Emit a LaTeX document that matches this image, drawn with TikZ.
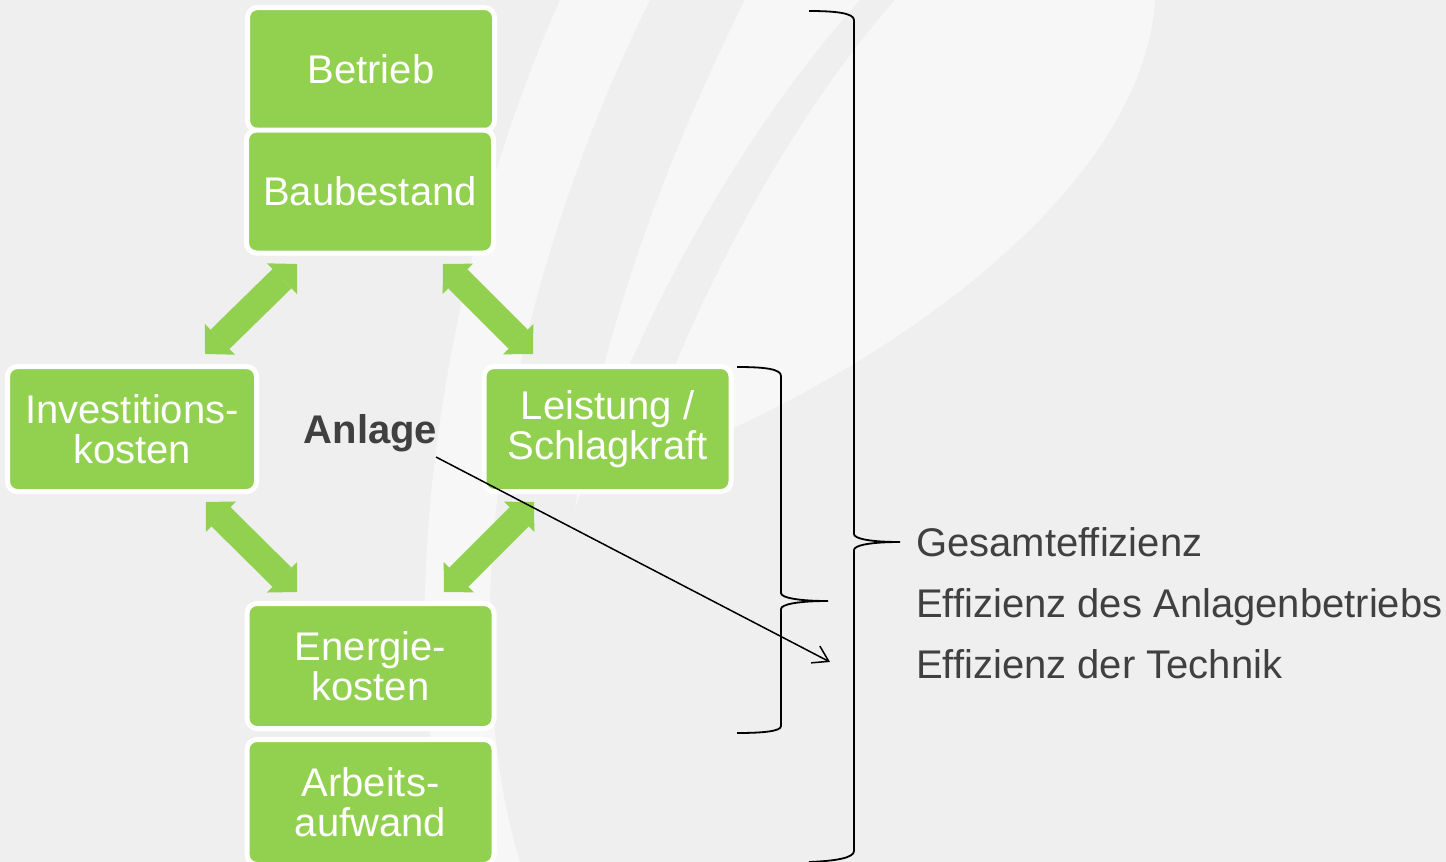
\documentclass[tikz,border=0pt]{standalone}
\usepackage{fontspec}
\setmainfont{Liberation Sans}
\usetikzlibrary{arrows.meta}
\definecolor{bg}{HTML}{EFEFEF}
\definecolor{swoosh}{HTML}{F7F7F7}
\definecolor{boxgreen}{HTML}{92D050}
\definecolor{txtgray}{HTML}{404040}
\tikzset{
  box/.style={rectangle, rounded corners=10pt, fill=boxgreen, draw=white, line width=5pt,
    minimum width=247pt, minimum height=123pt, text=white, align=center, inner sep=0pt,
    font=\fontsize{40pt}{40pt}\selectfont},
  dblarrow/.style={draw=boxgreen, line width=27pt,
    {Triangle[length=21pt,width=43pt,line width=0pt]}-{Triangle[length=21pt,width=43pt,line width=0pt]}},
  brace/.style={draw=black, line width=1.8pt},
  rlabel/.style={anchor=base west, text=txtgray, inner sep=0pt, font=\fontsize{40pt}{40pt}\selectfont},
}
\begin{document}
\begin{tikzpicture}[x=1pt,y=-1pt]
\useasboundingbox (0,0) rectangle (1446,862);
\begin{scope}
\clip (0,0) rectangle (1446,862);
\fill[bg] (0,0) rectangle (1446,862);
% background swooshes
\fill[swoosh] (560,0) .. controls (470,200) and (420,450) .. (425,650)
  .. controls (428,750) and (440,820) .. (455,862) -- (520,862)
  .. controls (495,780) and (490,700) .. (490,600)
  .. controls (495,400) and (560,180) .. (650,0) -- cycle;
\fill[swoosh] (745,0) -- (860,0) .. controls (760,110) and (640,300) .. (575,510)
  .. controls (600,330) and (670,150) .. (745,0) -- cycle;
\fill[swoosh] (895,0) -- (1155,0) .. controls (1145,160) and (960,320) .. (740,425)
  .. controls (700,442) and (665,455) .. (640,462)
  .. controls (680,330) and (780,130) .. (895,0) -- cycle;

% boxes
\node[box] (betrieb) at (371,69) {Betrieb};
\node[box] (baubestand) at (370,191.5) {Baubestand};
\node[box, minimum width=249pt, minimum height=125pt] (invest) at (132,429) {Investitions-\\kosten};
\node[box, minimum height=125pt] (leistung) at (607.5,429) {Leistung /\\Schlagkraft};
\node[box, minimum height=125pt] (energie) at (370.5,666) {Energie-\\kosten};
\node[box, minimum height=125pt] (arbeit) at (370.5,802) {Arbeits-\\aufwand};

\node[anchor=base, text=txtgray, inner sep=0pt, font=\bfseries\fontsize{40pt}{40pt}\selectfont] (anlage) at (370.5,443) {Anlage};

% green double arrows
\coordinate (a1) at (297,264); \coordinate (a2) at (205,354);
\coordinate (b1) at (443,264); \coordinate (b2) at (533,354);
\coordinate (c1) at (206,502); \coordinate (c2) at (297,592);
\coordinate (d1) at (534,502); \coordinate (d2) at (444,592);
\draw[dblarrow] (a1) -- (a2);
\draw[dblarrow] (b1) -- (b2);
\draw[dblarrow] (c1) -- (c2);
\draw[dblarrow] (d1) -- (d2);

% thin arrow
\coordinate (t1) at (436,457); \coordinate (t2) at (830,662);
\draw[line width=1.5pt, -{Straight Barb[length=15pt,width=19pt,line width=1.5pt]}] (t1) -- (t2);

% small brace
\draw[brace] (737,367) .. controls (765,367) and (781,369) .. (781,376) -- (781,593)
  .. controls (781,598) and (800,601) .. (828,601)
  .. controls (800,601) and (781,604) .. (781,609) -- (781,726)
  .. controls (781,731) and (765,733) .. (737,733);
% big brace
\draw[brace] (809,11) .. controls (835,11) and (854,13) .. (854,20) -- (854,534)
  .. controls (854,539) and (872,542) .. (900,542)
  .. controls (872,542) and (854,545) .. (854,550) -- (854,851)
  .. controls (854,858) and (835,861) .. (809,862);

% labels
\node[rlabel] (g1) at (916,556) {Gesamteffizienz};
\node[rlabel] (g2) at (916,617) {Effizienz des Anlagenbetriebs};
\node[rlabel] (g3) at (916,678) {Effizienz der Technik};
\end{scope}
\end{tikzpicture}
\end{document}
